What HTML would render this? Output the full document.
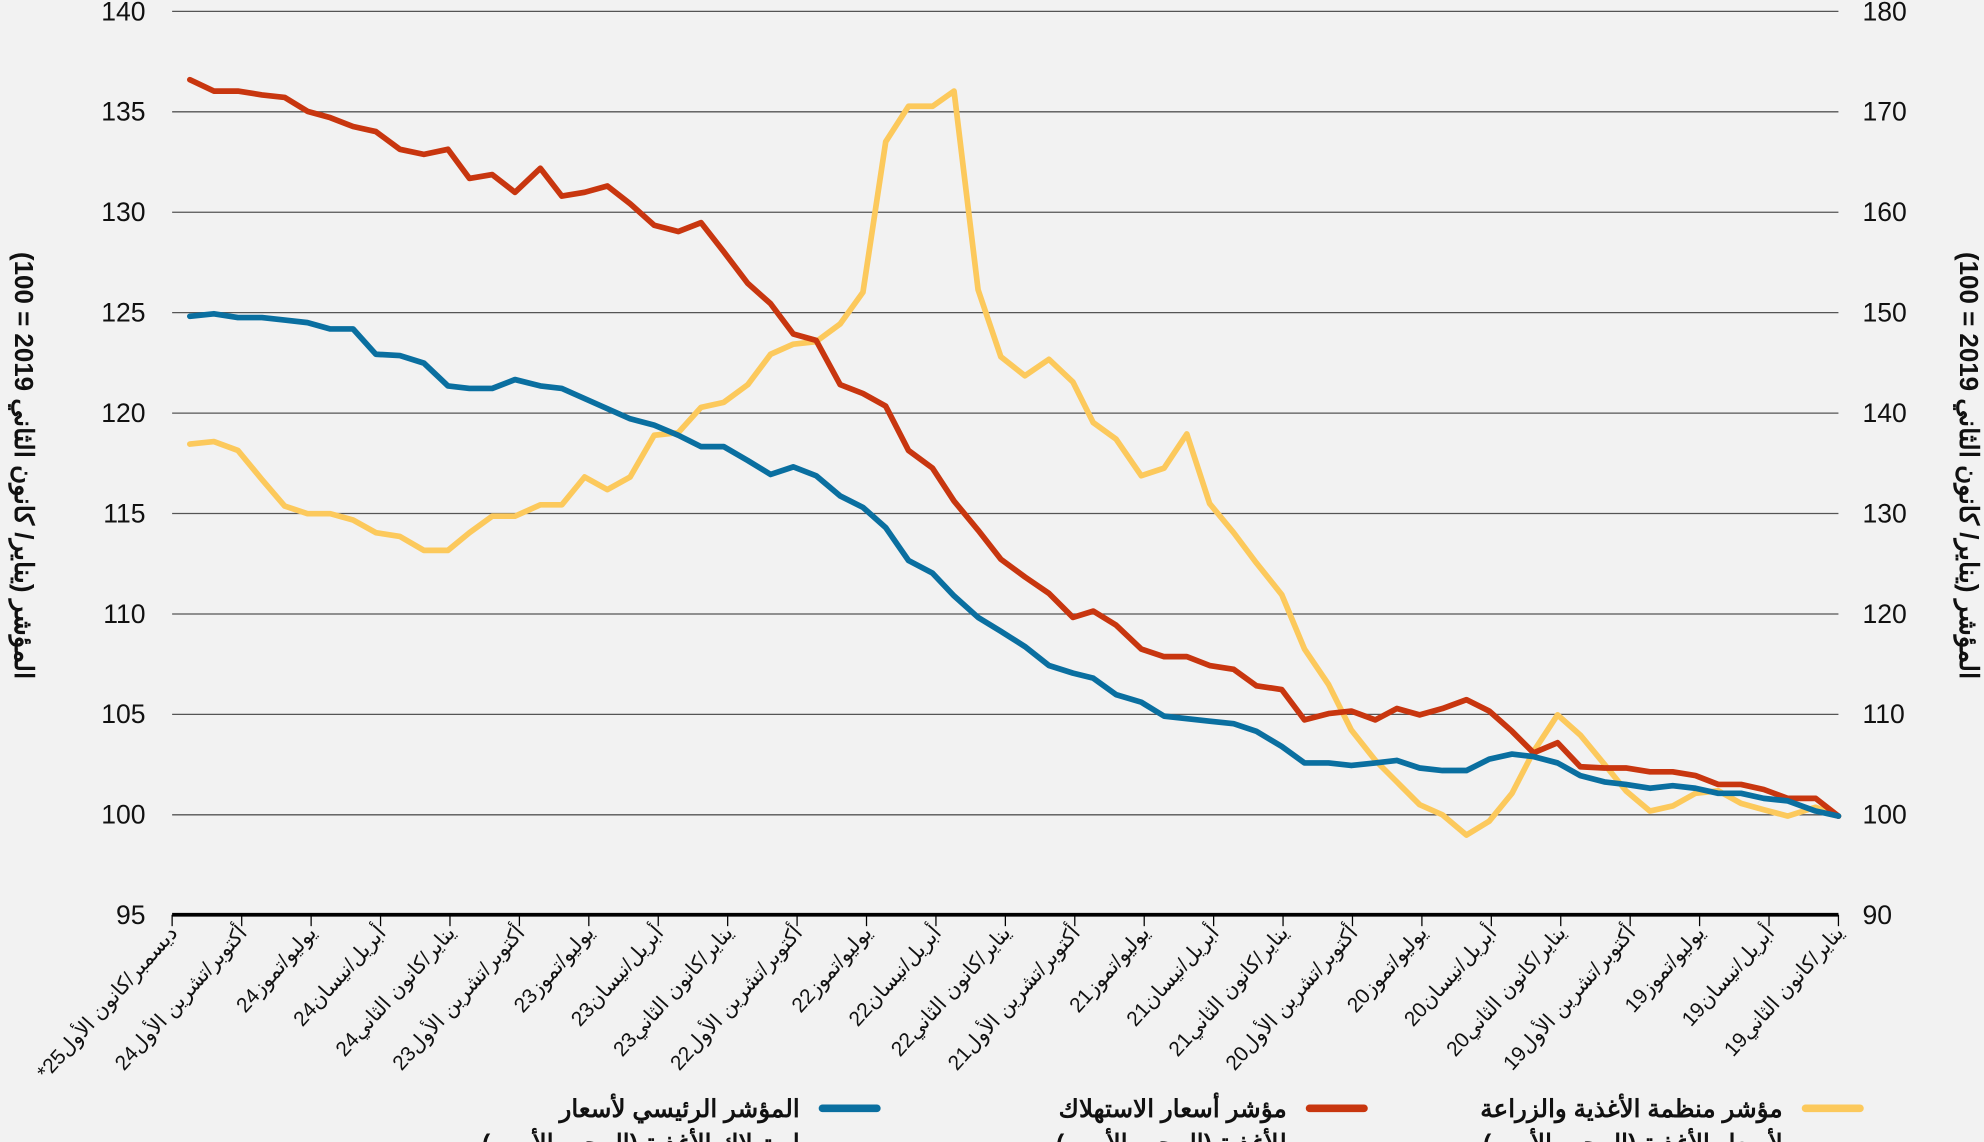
<!DOCTYPE html>
<html><head><meta charset="utf-8"><style>
html,body{margin:0;padding:0;background:#f2f2f2;}
svg{display:block;}
.yl{font-family:"Liberation Sans Narrow","Liberation Sans",sans-serif;font-size:21px;fill:#111;}
.xl{font-family:"Liberation Sans","Noto Sans CJK SC",sans-serif;font-size:16.5px;fill:#111;}
.tt{font-family:"Liberation Sans","Noto Sans CJK SC",sans-serif;font-size:20.5px;font-weight:bold;fill:#111;}
.lg{font-family:"Liberation Sans","Noto Sans CJK SC",sans-serif;font-size:19.5px;font-weight:bold;fill:#111;}
</style></head><body>
<svg width="1984" height="1142" viewBox="0 0 1568 902.6" xmlns="http://www.w3.org/2000/svg">
<rect width="1568" height="903" fill="#f2f2f2"/>
<g id="grid" stroke="#555" stroke-width="1"></g>
<g id="ylabels"></g>
<line x1="136" y1="723" x2="1453" y2="723" stroke="#000" stroke-width="3"/>
<g id="ticks" stroke="#000" stroke-width="1"></g>
<g id="xlabels"></g>
<text class="tt" transform="translate(12,368) rotate(90)" text-anchor="middle" direction="rtl">المؤشر (يناير/ كانون الثاني 2019 = 100)</text>
<text class="tt" transform="translate(1549,368) rotate(90)" text-anchor="middle" direction="rtl">المؤشر (يناير/ كانون الثاني 2019 = 100)</text>
<g fill="none" stroke-width="4.5" stroke-linejoin="round" stroke-linecap="round">
<polyline stroke="#fcc95c" points="150,351 169,349 188,356 207,379 225,400 243,406 261,406 279,411 297,421 316,424 335,435 354,435 371,421 389,408 407,408 427,399 444,399 462,377 480,387 498,377 517,344 536,342 554,322 572,318 591,304 609,280 627,272 645,270 664,256 682,231 700,112 718,84 737,84 754,72 773,229 791,282 810,297 829,284 848,302 864,334 882,347 902,376 920,370 938,343 956,398 975,421 993,445 1013,470 1031,513 1050,541 1068,577 1087,601 1104,618 1122,636 1140,644 1159,660 1177,649 1195,627 1212,594 1231,565 1249,581 1268,604 1285,625 1304,641 1322,637 1340,627 1358,625 1376,635 1394,640 1413,645 1435,638 1453,645"/>
<polyline stroke="#c8360f" points="150,63 169,72 188,72 207,75 225,77 243,88 261,93 279,100 297,104 316,118 335,122 354,118 371,141 389,138 407,152 427,133 444,155 462,152 480,147 498,161 517,178 536,183 554,176 572,199 591,224 609,240 627,264 645,269 664,304 682,311 700,321 718,356 737,370 754,396 773,419 791,442 810,456 829,469 848,488 864,483 882,494 902,513 920,519 938,519 956,526 975,529 993,542 1013,545 1031,569 1050,564 1068,562 1087,569 1104,560 1122,565 1140,560 1159,553 1177,562 1195,578 1212,595 1231,587 1249,606 1268,607 1285,607 1304,610 1322,610 1340,613 1358,620 1376,620 1394,624 1413,631 1435,631 1453,645"/>
<polyline stroke="#0a6fa0" points="150,250 169,248 188,251 207,251 225,253 243,255 261,260 279,260 297,280 316,281 335,287 354,305 371,307 389,307 407,300 427,305 444,307 462,315 480,323 498,331 517,336 536,344 554,353 572,353 591,364 609,375 627,369 645,376 664,392 682,401 700,417 718,443 737,453 754,471 773,488 791,499 810,511 829,526 848,532 864,536 882,549 902,555 920,566 938,568 956,570 975,572 993,578 1013,590 1031,603 1050,603 1068,605 1087,603 1104,601 1122,607 1140,609 1159,609 1177,600 1195,596 1212,598 1231,603 1249,613 1268,618 1285,620 1304,623 1322,621 1340,623 1358,627 1376,627 1394,631 1413,633 1435,641 1453,645"/>
</g>
<g stroke-width="6" stroke-linecap="round">
<line x1="650" y1="876" x2="693" y2="876" stroke="#0a6fa0"/>
<line x1="1035" y1="876" x2="1078" y2="876" stroke="#c8360f"/>
<line x1="1427" y1="876" x2="1470" y2="876" stroke="#fcc95c"/>
</g>
<text class="lg" x="632" y="883" text-anchor="end">المؤشر الرئيسي لأسعار</text>
<text class="lg" x="632" y="910" text-anchor="end">استهلاك الأغذية (المحور الأيسر)</text>
<text class="lg" x="1017" y="883" text-anchor="end">مؤشر أسعار الاستهلاك</text>
<text class="lg" x="1017" y="910" text-anchor="end">للأغذية (المحور الأيسر)</text>
<text class="lg" x="1409" y="883" text-anchor="end">مؤشر منظمة الأغذية والزراعة</text>
<text class="lg" x="1409" y="910" text-anchor="end">لأسعار الأغذية (المحور الأيمن)</text>
</svg>
<script>
const NS="http://www.w3.org/2000/svg";
function el(t,a,txt){const e=document.createElementNS(NS,t);for(const k in a)e.setAttribute(k,a[k]);if(txt!==undefined)e.textContent=txt;return e;}
const grid=document.getElementById('grid'),yl=document.getElementById('ylabels');
for(let k=0;k<=9;k++){const y=9+k*79.375;
 if(k<9)grid.appendChild(el('line',{x1:136,x2:1453,y1:y,y2:y}));
 yl.appendChild(el('text',{class:'yl',x:115,y:y+7,'text-anchor':'end'},String(140-5*k)));
 yl.appendChild(el('text',{class:'yl',x:1472,y:y+7},String(180-10*k)));}
const tk=document.getElementById('ticks'),xl=document.getElementById('xlabels');
const m=["يناير/كانون الثاني","أبريل/نيسان","يوليو/تموز","أكتوبر/تشرين الأول"];
const pos=[];
for(let k=0;k<24;k++){pos.push([1453-18.29*3*k,m[k%4]+(19+Math.floor(k/4))]);}
pos.push([136,"ديسمبر/كانون الأول25*"]);
for(const [x,t] of pos){tk.appendChild(el('line',{x1:x,x2:x,y1:723,y2:732}));
 xl.appendChild(el('text',{class:'xl',transform:`translate(${x+5},${738}) rotate(-48)`,'text-anchor':'start',direction:'rtl'},t));}
</script>
</body></html>
